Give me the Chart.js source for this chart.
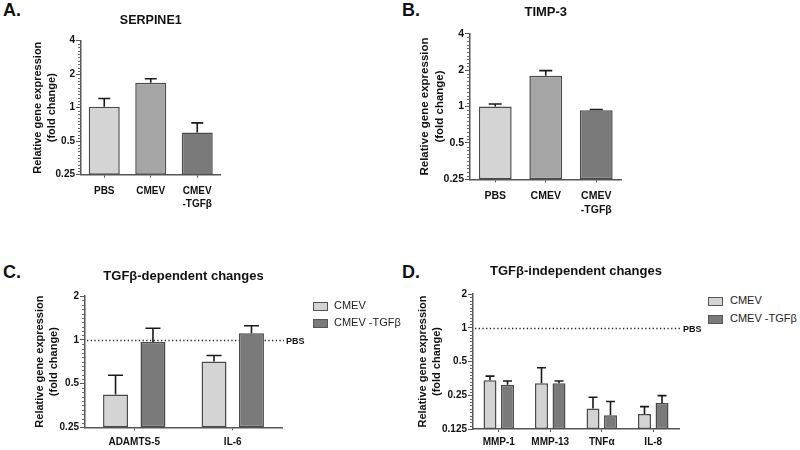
<!DOCTYPE html>
<html><head><meta charset="utf-8">
<script src="https://cdn.jsdelivr.net/npm/chart.js@4.4.1/dist/chart.umd.min.js"></script>
<style>
body{margin:0;background:#fff;width:800px;height:450px;position:relative;overflow:hidden;font-family:"Liberation Sans",Arial,sans-serif;}
canvas{position:absolute;}
.lbl{position:absolute;font-weight:bold;font-size:18px;color:#111;line-height:20px;}
.leg{position:absolute;font-size:11px;color:#222;line-height:13px;white-space:nowrap;}
.sw{position:absolute;width:13px;height:7px;border:1px solid #555;}
</style></head><body>
<div class="lbl" style="left:3px;top:0px">A.</div>
<div class="lbl" style="left:402px;top:0px">B.</div>
<div class="lbl" style="left:3px;top:262px">C.</div>
<div class="lbl" style="left:402px;top:262px">D.</div>
<canvas id="cA" width="240" height="220" style="left:0;top:0"></canvas>
<canvas id="cB" width="260" height="220" style="left:380px;top:0"></canvas>
<canvas id="cC" width="310" height="230" style="left:0;top:220px"></canvas>
<canvas id="cD" width="305" height="230" style="left:400px;top:220px"></canvas>
<div class="sw" style="left:313px;top:302px;background:#d4d4d4"></div>
<div class="leg" style="left:334px;top:299px" id="legC1"></div>
<div class="sw" style="left:313px;top:319px;background:#7a7a7a"></div>
<div class="leg" style="left:334px;top:316px" id="legC2"></div>
<div class="sw" style="left:708px;top:297px;background:#d4d4d4"></div>
<div class="leg" style="left:730px;top:294px" id="legD1"></div>
<div class="sw" style="left:708px;top:315px;background:#7a7a7a"></div>
<div class="leg" style="left:730px;top:312px" id="legD2"></div>
<script>
// ---------- data ----------
const groupLabels = ['PBS', 'CMEV', ['CMEV', '-TGFβ']];
const serpineMean = [1.02, 1.68, 0.60];
const serpineUpper = [1.21, 1.82, 0.73];
const timpMean = [1.00, 1.80, 0.93];
const timpUpper = [1.05, 1.98, 0.945];

const depGenes = ['ADAMTS-5', 'IL-6'];
const depCmev = [0.42, 0.71];
const depCmevUpper = [0.57, 0.78];
const depTgf = [0.965, 1.11];
const depTgfUpper = [1.20, 1.25];

const indepGenes = ['MMP-1', 'MMP-13', 'TNFα', 'IL-8'];
const indepCmev = [0.34, 0.32, 0.19, 0.17];
const indepCmevUpper = [0.37, 0.44, 0.24, 0.198];
const indepTgf = [0.31, 0.32, 0.166, 0.213];
const indepTgfUpper = [0.335, 0.335, 0.22, 0.248];

const seriesNames = ['CMEV', 'CMEV -TGFβ'];
const ticksAB = [0.25, 0.5, 1, 2, 4];
const ticksC = [0.25, 0.5, 1, 2];
const ticksD = [0.125, 0.25, 0.5, 1, 2];
const refValue = 1;
const refLabel = 'PBS';
const yTitle = ['Relative gene expression', '(fold change)'];

// ---------- style ----------
const FONT = '"Liberation Sans", Arial, sans-serif';
const cLight = '#d4d4d4', cMid = '#a5a5a5', cDark = '#7a7a7a', cEdge = '#4a4a4a', cAxis = '#555555';

document.getElementById('legC1').textContent = seriesNames[0];
document.getElementById('legC2').textContent = seriesNames[1];
document.getElementById('legD1').textContent = seriesNames[0];
document.getElementById('legD2').textContent = seriesNames[1];

const errorBars = {
  id: 'errorBars',
  afterDatasetsDraw(chart, args, opts) {
    const ctx = chart.ctx, ys = chart.scales.y;
    chart.data.datasets.forEach((ds, i) => {
      if (!ds.upper) return;
      chart.getDatasetMeta(i).data.forEach((bar, j) => {
        const top = ys.getPixelForValue(ds.upper[j]);
        ctx.save();
        ctx.strokeStyle = '#1a1a1a'; ctx.lineWidth = 1.6;
        ctx.beginPath();
        ctx.moveTo(bar.x, bar.y); ctx.lineTo(bar.x, top);
        ctx.moveTo(bar.x - opts.cap / 2, top); ctx.lineTo(bar.x + opts.cap / 2, top);
        ctx.stroke(); ctx.restore();
      });
    });
  }
};

const minorTicks = {
  id: 'minorTicks',
  afterDraw(chart) {
    const ys = chart.scales.y, ctx = chart.ctx;
    const majors = ys.ticks.map(k => k.value);
    ctx.save(); ctx.strokeStyle = '#666'; ctx.lineWidth = 1;
    for (let m = 0; m < majors.length - 1; m++) {
      for (let k = 1; k < 10; k++) {
        const v = majors[m] * Math.pow(majors[m + 1] / majors[m], k / 10);
        const py = Math.round(ys.getPixelForValue(v)) + 0.5;
        ctx.beginPath(); ctx.moveTo(chart.chartArea.left - 3, py); ctx.lineTo(chart.chartArea.left, py); ctx.stroke();
      }
    }
    ctx.restore();
  }
};

const refLine = {
  id: 'refLine',
  beforeDatasetsDraw(chart, args, opts) {
    if (!opts.show) return;
    const ys = chart.scales.y, ctx = chart.ctx, a = chart.chartArea;
    const py = Math.round(ys.getPixelForValue(refValue)) + 0.5;
    ctx.save();
    ctx.strokeStyle = '#222'; ctx.lineWidth = 1.3; ctx.setLineDash([1.3, 2.4]);
    ctx.beginPath(); ctx.moveTo(a.left + 2, py); ctx.lineTo(a.right + 2, py); ctx.stroke();
    ctx.setLineDash([]);
    ctx.fillStyle = '#111'; ctx.font = 'bold 9px ' + FONT; ctx.textBaseline = 'middle'; ctx.textAlign = 'left';
    ctx.fillText(refLabel, a.right + 4, py + 1);
    ctx.restore();
  }
};

function makeChart(id, p) {
  return new Chart(document.getElementById(id), {
    type: 'bar',
    data: { labels: p.labels, datasets: p.datasets },
    plugins: [errorBars, minorTicks, refLine],
    options: {
      responsive: false, animation: false, devicePixelRatio: 1,
      layout: { padding: { left: 0, right: p.padRight, top: 0, bottom: 0 } },
      datasets: { bar: { categoryPercentage: p.catPct, barPercentage: p.barPct, borderWidth: 1.5, borderColor: cEdge, borderSkipped: false } },
      plugins: {
        legend: { display: false },
        tooltip: { enabled: false },
        title: { display: true, text: p.title, fullSize: false, color: '#111',
          font: { family: FONT, size: p.titleSize, weight: 'bold', lineHeight: 1.2 },
          padding: { top: p.titlePadTop, bottom: p.titlePadBottom } },
        errorBars: { cap: p.cap },
        refLine: { show: p.ref }
      },
      scales: {
        x: {
          offset: true,
          grid: { display: true, drawOnChartArea: false, drawTicks: true, tickLength: 3, offset: false, color: cAxis, lineWidth: 1 },
          border: { display: true, color: cAxis, width: 1.5 },
          ticks: { color: '#111', padding: p.xPad, maxRotation: 0, autoSkip: false,
            font: { family: FONT, size: p.xFont, weight: 'bold', lineHeight: 1.3 } },
          afterFit: s => { s.height = p.xHeight; }
        },
        y: {
          type: 'logarithmic', min: p.ticks[0], max: p.ticks[p.ticks.length - 1],
          afterBuildTicks: s => { s.ticks = p.ticks.map(v => ({ value: v })); },
          grid: { display: true, drawOnChartArea: false, drawTicks: true, tickLength: 5, color: cAxis, lineWidth: 1 },
          border: { display: true, color: cAxis, width: 1.5 },
          ticks: { color: '#111', padding: 1, callback: v => String(v),
            font: { family: FONT, size: p.yFont, weight: 'bold' } },
          title: { display: true, text: yTitle, color: '#111',
            font: { family: FONT, size: p.yTitleSize, weight: 'bold', lineHeight: 1.3 },
            padding: { top: p.yTitlePad, bottom: 0 } },
          afterFit: s => { s.width = p.yWidth; }
        }
      }
    }
  });
}

makeChart('cA', {
  labels: groupLabels, title: 'SERPINE1', titleSize: 12.5, titlePadTop: 13, titlePadBottom: 12.7,
  datasets: [{ data: serpineMean, upper: serpineUpper, backgroundColor: [cLight, cMid, cDark] }],
  ticks: ticksAB, yWidth: 81, xHeight: 45.3, padRight: 19.5, catPct: 1, barPct: 0.667,
  xPad: 7, xFont: 10, yFont: 10, yTitleSize: 11, yTitlePad: 30.8, cap: 12, ref: false
});
makeChart('cB', {
  labels: groupLabels, title: 'TIMP-3', titleSize: 13, titlePadTop: 5, titlePadBottom: 13.1,
  datasets: [{ data: timpMean, upper: timpUpper, backgroundColor: [cLight, cMid, cDark] }],
  ticks: ticksAB, yWidth: 90, xHeight: 40.7, padRight: 18.5, catPct: 1, barPct: 0.65,
  xPad: 7, xFont: 10.5, yFont: 10.5, yTitleSize: 11.5, yTitlePad: 37.5, cap: 13, ref: false
});
makeChart('cC', {
  labels: depGenes, title: 'TGFβ-dependent changes', titleSize: 13, titlePadTop: 48.9, titlePadBottom: 11.5,
  datasets: [
    { label: seriesNames[0], data: depCmev, upper: depCmevUpper, backgroundColor: cLight },
    { label: seriesNames[1], data: depTgf, upper: depTgfUpper, backgroundColor: cDark }
  ],
  ticks: ticksC, yWidth: 85, xHeight: 22.7, padRight: 28, catPct: 0.76, barPct: 0.667,
  xPad: 5, xFont: 10, yFont: 10, yTitleSize: 11, yTitlePad: 32.8, cap: 15, ref: true
});
makeChart('cD', {
  labels: indepGenes, title: 'TGFβ-independent changes', titleSize: 13, titlePadTop: 43.9, titlePadBottom: 14.5,
  datasets: [
    { label: seriesNames[0], data: indepCmev, upper: indepCmevUpper, backgroundColor: cLight },
    { label: seriesNames[1], data: indepTgf, upper: indepTgfUpper, backgroundColor: cDark }
  ],
  ticks: ticksD, yWidth: 73, xHeight: 21, padRight: 26, catPct: 0.68, barPct: 0.74,
  xPad: 4, xFont: 10, yFont: 10, yTitleSize: 11, yTitlePad: 15.8, cap: 9, ref: true
});
</script>
</body></html>
